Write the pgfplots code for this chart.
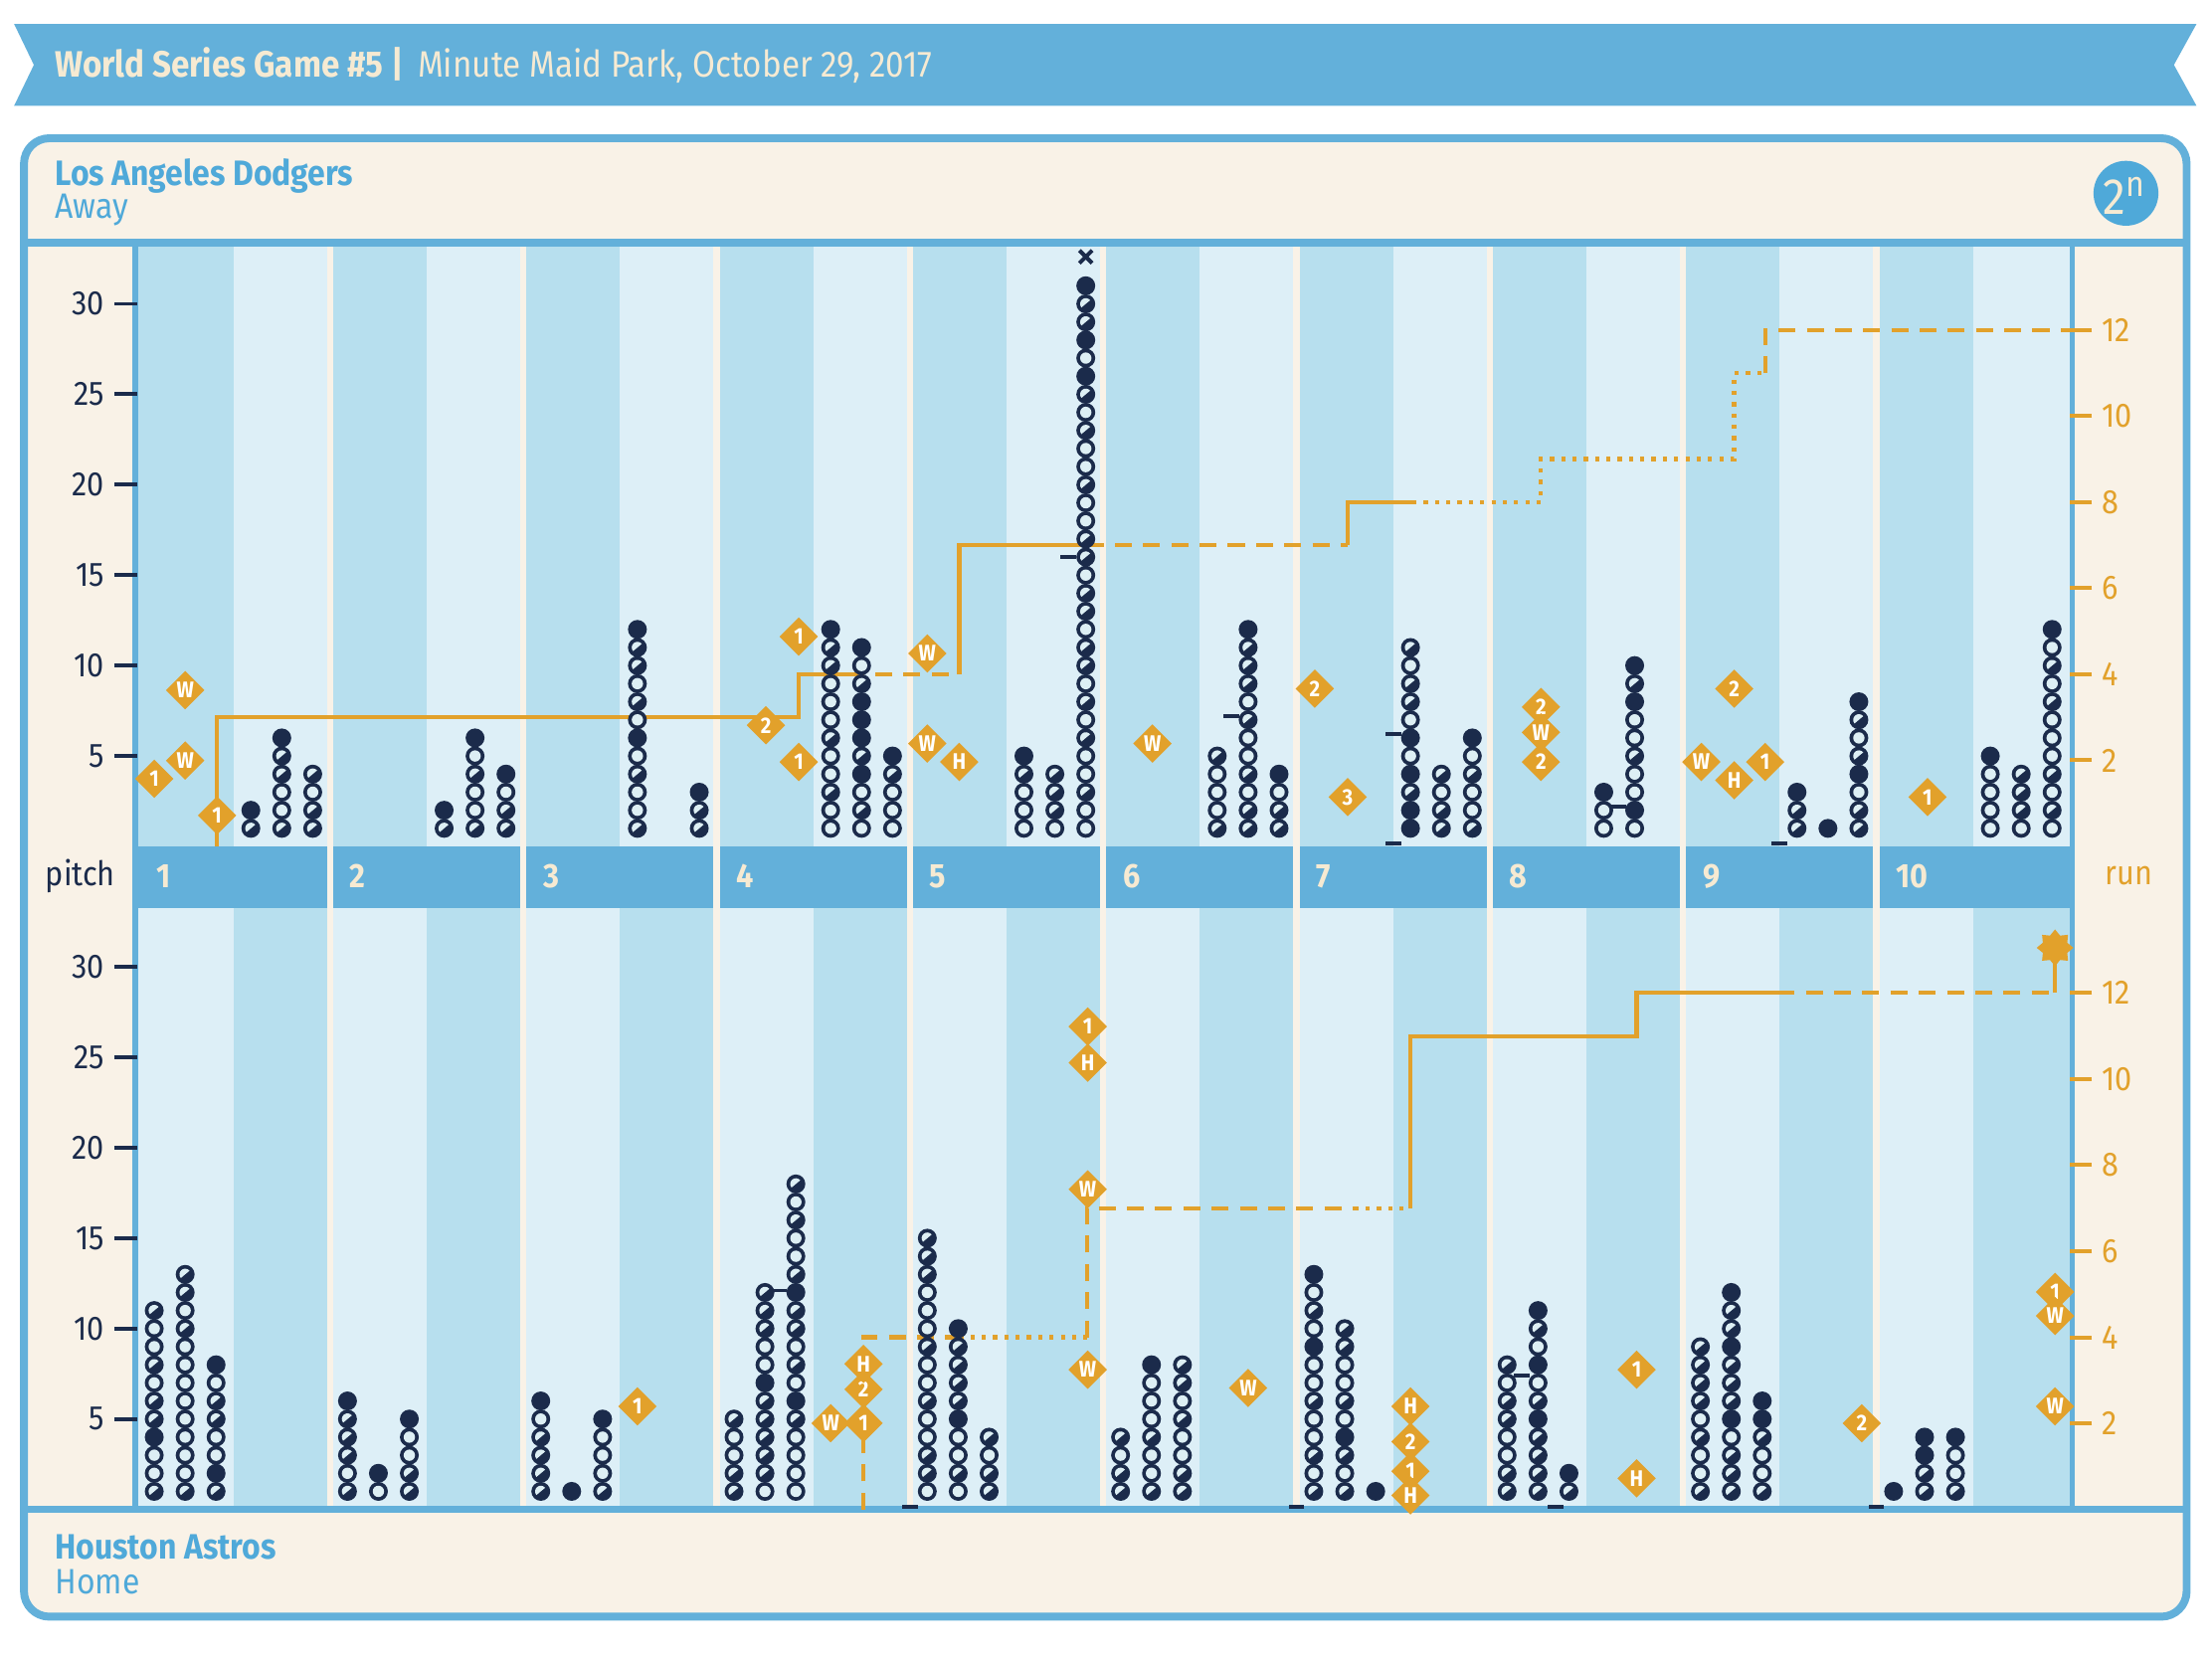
\documentclass[border=0pt]{standalone}
\usepackage{fontspec}
\setmainfont{Fira Sans}[FakeStretch=0.9]
\usepackage{pgfplots}
\pgfplotsset{compat=1.18}

\definecolor{navy}{HTML}{1B2B4B}
\definecolor{bandblue}{HTML}{63B0DA}
\definecolor{headblue}{HTML}{4FA9D9}
\definecolor{stripeD}{HTML}{B7DFEE}
\definecolor{stripeL}{HTML}{DDEFF7}
\definecolor{cream}{HTML}{F9F2E7}
\definecolor{orangec}{HTML}{E2A12B}
\definecolor{titlecream}{HTML}{F6EAD2}
\definecolor{dotlight}{HTML}{DDEFF4}

% pitch dots drawn only with fills, so their look does not depend on line width
\pgfdeclareplotmark{dotF}{%
  \pgfscope
  \pgfsetfillcolor{navy}%
  \pgfpathcircle{\pgfpointorigin}{\pgfplotmarksize}%
  \pgfusepathqfill
  \endpgfscope
}
\pgfdeclareplotmark{dotO}{%
  \pgfscope
  \pgfsetfillcolor{navy}%
  \pgfpathcircle{\pgfpointorigin}{\pgfplotmarksize}%
  \pgfusepathqfill
  \pgfsetfillcolor{dotlight}%
  \pgfpathcircle{\pgfpointorigin}{0.6\pgfplotmarksize}%
  \pgfusepathqfill
  \endpgfscope
}
\pgfdeclareplotmark{dotS}{%
  \pgfscope
  \pgfsetfillcolor{navy}%
  \pgfpathcircle{\pgfpointorigin}{\pgfplotmarksize}%
  \pgfusepathqfill
  \pgfsetfillcolor{dotlight}%
  \pgfpathmoveto{\pgfpointpolar{40}{0.6\pgfplotmarksize}}%
  \pgfpatharc{40}{220}{0.6\pgfplotmarksize}%
  \pgfpathclose
  \pgfusepathqfill
  \endpgfscope
}
\pgfdeclareplotmark{rhomb}{%
  \pgfpathmoveto{\pgfqpoint{0pt}{\pgfplotmarksize}}%
  \pgfpathlineto{\pgfqpoint{\pgfplotmarksize}{0pt}}%
  \pgfpathlineto{\pgfqpoint{0pt}{-\pgfplotmarksize}}%
  \pgfpathlineto{\pgfqpoint{-\pgfplotmarksize}{0pt}}%
  \pgfpathclose
  \pgfusepathqfill
}
\pgfdeclareplotmark{burst}{%
  \pgfpathmoveto{\pgfpointpolar{0}{\pgfplotmarksize}}%
  \pgfpathlineto{\pgfpointpolar{22.5}{0.72\pgfplotmarksize}}%
  \pgfpathlineto{\pgfpointpolar{45}{\pgfplotmarksize}}%
  \pgfpathlineto{\pgfpointpolar{67.5}{0.72\pgfplotmarksize}}%
  \pgfpathlineto{\pgfpointpolar{90}{\pgfplotmarksize}}%
  \pgfpathlineto{\pgfpointpolar{112.5}{0.72\pgfplotmarksize}}%
  \pgfpathlineto{\pgfpointpolar{135}{\pgfplotmarksize}}%
  \pgfpathlineto{\pgfpointpolar{157.5}{0.72\pgfplotmarksize}}%
  \pgfpathlineto{\pgfpointpolar{180}{\pgfplotmarksize}}%
  \pgfpathlineto{\pgfpointpolar{202.5}{0.72\pgfplotmarksize}}%
  \pgfpathlineto{\pgfpointpolar{225}{\pgfplotmarksize}}%
  \pgfpathlineto{\pgfpointpolar{247.5}{0.72\pgfplotmarksize}}%
  \pgfpathlineto{\pgfpointpolar{270}{\pgfplotmarksize}}%
  \pgfpathlineto{\pgfpointpolar{292.5}{0.72\pgfplotmarksize}}%
  \pgfpathlineto{\pgfpointpolar{315}{\pgfplotmarksize}}%
  \pgfpathlineto{\pgfpointpolar{337.5}{0.72\pgfplotmarksize}}%
  \pgfpathclose
  \pgfusepathqfill
}

\pgfplotsset{
  panel/.style={anchor=south west, scale only axis, width=685pt, height=212.5pt,
    xmin=0, xmax=20, xtick=\empty, axis line style={draw=none},
    tick align=outside, major tick length=8pt,
    /pgf/number format/assume math mode=true, clip=false,
    yticklabel style={font=\fontsize{12}{12}\selectfont}},
  pitchax/.style={panel, ymin=0, ymax=33.15, ytick={5,10,...,30},
    ytick pos=left, yticklabel pos=left,
    tick style={draw=navy, line width=1.4pt}, yticklabel style={text=navy}},
  runax/.style={panel, ymin=0, ymax=13.93, ytick={2,4,...,12},
    ytick pos=right, yticklabel pos=right,
    tick style={draw=orangec, line width=1.4pt}, yticklabel style={text=orangec}},
  dots/.style={scatter, only marks, scatter src=explicit symbolic, mark size=3.35pt,
    scatter/classes={
      f={mark=dotF, mark size=3.35pt},
      o={mark=dotO, mark size=3.35pt},
      s={mark=dotS, mark size=3.35pt}}},
  diam/.style={only marks, mark=rhomb, mark size=6.8pt, color=orangec,
    point meta=explicit symbolic, nodes near coords,
    nodes near coords style={anchor=center, inner sep=0pt, text=white,
      font=\fontsize{8}{8}\selectfont\bfseries}},
  rsolid/.style={orangec, line width=1.5pt, mark=none},
  rdash/.style={orangec, line width=1.5pt, dash pattern=on 6pt off 4pt, mark=none},
  rdot/.style={orangec, line width=1.5pt, dash pattern=on 1.5pt off 2.5pt, mark=none},
  smalldash/.style={only marks, mark=-, mark size=2.8pt, navy, line width=1.3pt},
}

\begin{document}
\begin{tikzpicture}
\begin{scope}[x=0.5pt,y=-0.5pt]
  \fill[white] (0,0) rectangle (1568,1176);
  % banner
  \fill[bandblue] (10,17) -- (1557,17) -- (1541,46) -- (1557,75) -- (10,75) -- (24,46) -- cycle;
  \node[anchor=west, text=titlecream, font=\fontsize{13}{14}\selectfont] at (32,46)
    {\textbf{World Series Game \#5 |}\hspace{5pt}Minute Maid Park, October 29, 2017};
  % panel
  \draw[line width=2.8pt, bandblue, fill=cream, rounded corners=9pt] (17,98) rectangle (1550,1146);
  % stripes
  \foreach \i in {0,...,9}{
    \pgfmathsetmacro\xa{97+137*\i}
    \pgfmathsetmacro\xb{97+137*\i+68.5}
    \pgfmathsetmacro\xc{97+137*\i+137}
    \fill[stripeD] (\xa,174) rectangle (\xb,600);
    \fill[stripeL] (\xb,174) rectangle (\xc,600);
    \fill[stripeL] (\xa,644) rectangle (\xb,1070);
    \fill[stripeD] (\xb,644) rectangle (\xc,1070);
  }
  \fill[bandblue] (97,600) rectangle (1467,644);
  \foreach \i in {1,...,9}{
    \draw[cream, line width=2.3pt] ({97+137*\i},174) -- ({97+137*\i},1070);
  }
  \foreach \i in {1,...,10}{
    \node[anchor=west, text=titlecream, font=\fontsize{12}{12}\selectfont\bfseries]
      at ({97+137*(\i-1)+7},621) {\i};
  }
  % borders
  \draw[bandblue, line width=2pt] (96,172) -- (96,1070);
  \draw[bandblue, line width=2pt] (1469,172) -- (1469,1070);
  \draw[bandblue, line width=2.6pt] (17,172) -- (1550,172);
  \draw[bandblue, line width=2.6pt] (17,1070) -- (1550,1070);
  % texts
  \node[anchor=west, text=headblue, font=\fontsize{12.5}{13}\selectfont\bfseries] at (32,125) {Los Angeles Dodgers};
  \node[anchor=west, text=headblue, font=\fontsize{12.5}{13}\selectfont] at (32,149) {Away};
  \node[anchor=west, text=headblue, font=\fontsize{12.5}{13}\selectfont\bfseries] at (32,1097) {Houston Astros};
  \node[anchor=west, text=headblue, font=\fontsize{12.5}{13}\selectfont] at (32,1121) {Home};
  \node[text=navy, font=\fontsize{12}{12}\selectfont] at (57,621) {pitch};
  \node[text=orangec, font=\fontsize{12}{12}\selectfont] at (1509,621) {run};
  \fill[headblue] (1507,137) circle[radius=11.5pt];
  \node[text=titlecream, font=\fontsize{18}{18}\selectfont] at (1506,139) {2\textsuperscript{n}};
\end{scope}

% ================= TOP PANEL (Los Angeles Dodgers) =================
\begin{axis}[runax, at={(48.5pt,-300pt)}]
  \addplot[rsolid] coordinates {(0.83,0)(0.83,3)(6.85,3)(6.85,4)(7.35,4)};
  \addplot[rdash] coordinates {(7.35,4)(8.51,4)};
  \addplot[rsolid] coordinates {(8.51,4)(8.51,7)(9.83,7)};
  \addplot[rdash] coordinates {(9.83,7)(12.53,7)};
  \addplot[rsolid] coordinates {(12.53,7)(12.53,8)(13.2,8)};
  \addplot[rdot] coordinates {(13.2,8)(14.53,8)(14.53,9)(16.53,9)(16.53,11)(16.85,11)};
  \addplot[rdash] coordinates {(16.85,11)(16.85,12)(20,12)};
\end{axis}

\begin{axis}[pitchax, at={(48.5pt,-300pt)}]
  \addplot[dots] coordinates {
    (1.18,1)[s] (1.18,2)[f]
    (1.5,1)[s] (1.5,2)[o] (1.5,3)[o] (1.5,4)[s] (1.5,5)[s] (1.5,6)[f]
    (1.82,1)[s] (1.82,2)[s] (1.82,3)[o] (1.82,4)[s]
    (3.18,1)[s] (3.18,2)[f]
    (3.5,1)[s] (3.5,2)[o] (3.5,3)[o] (3.5,4)[s] (3.5,5)[o] (3.5,6)[f]
    (3.82,1)[s] (3.82,2)[s] (3.82,3)[o] (3.82,4)[f]
    (5.18,1)[s] (5.18,2)[o] (5.18,3)[o] (5.18,4)[s] (5.18,5)[o] (5.18,6)[f] (5.18,7)[o] (5.18,8)[s] (5.18,9)[o] (5.18,10)[s] (5.18,11)[s] (5.18,12)[f]
    (5.82,1)[s] (5.82,2)[s] (5.82,3)[f]
    (7.18,1)[o] (7.18,2)[o] (7.18,3)[s] (7.18,4)[o] (7.18,5)[o] (7.18,6)[s] (7.18,7)[o] (7.18,8)[o] (7.18,9)[o] (7.18,10)[s] (7.18,11)[s] (7.18,12)[f]
    (7.5,1)[o] (7.5,2)[s] (7.5,3)[o] (7.5,4)[f] (7.5,5)[s] (7.5,6)[f] (7.5,7)[f] (7.5,8)[f] (7.5,9)[s] (7.5,10)[o] (7.5,11)[f]
    (7.82,1)[o] (7.82,2)[o] (7.82,3)[o] (7.82,4)[s] (7.82,5)[f]
    (9.18,1)[o] (9.18,2)[o] (9.18,3)[o] (9.18,4)[s] (9.18,5)[f]
    (9.5,1)[o] (9.5,2)[s] (9.5,3)[s] (9.5,4)[s]
    (9.82,1)[o] (9.82,2)[o] (9.82,3)[s] (9.82,4)[o] (9.82,5)[o] (9.82,6)[s] (9.82,7)[o] (9.82,8)[s] (9.82,9)[o] (9.82,10)[s]
    (9.82,11)[s] (9.82,12)[o] (9.82,13)[s] (9.82,14)[s] (9.82,15)[o] (9.82,16)[s] (9.82,17)[s] (9.82,18)[o] (9.82,19)[o] (9.82,20)[s]
    (9.82,21)[o] (9.82,22)[o] (9.82,23)[s] (9.82,24)[o] (9.82,25)[s] (9.82,26)[f] (9.82,27)[o] (9.82,28)[f] (9.82,29)[s] (9.82,30)[s] (9.82,31)[f]
    (11.18,1)[s] (11.18,2)[o] (11.18,3)[o] (11.18,4)[o] (11.18,5)[s]
    (11.5,1)[s] (11.5,2)[s] (11.5,3)[o] (11.5,4)[s] (11.5,5)[o] (11.5,6)[o] (11.5,7)[s] (11.5,8)[o] (11.5,9)[s] (11.5,10)[s] (11.5,11)[s] (11.5,12)[f]
    (11.82,1)[s] (11.82,2)[s] (11.82,3)[o] (11.82,4)[f]
    (13.18,1)[f] (13.18,2)[f] (13.18,3)[s] (13.18,4)[f] (13.18,5)[o] (13.18,6)[f] (13.18,7)[o] (13.18,8)[s] (13.18,9)[s] (13.18,10)[o] (13.18,11)[s]
    (13.5,1)[s] (13.5,2)[s] (13.5,3)[o] (13.5,4)[s]
    (13.82,1)[s] (13.82,2)[o] (13.82,3)[o] (13.82,4)[s] (13.82,5)[o] (13.82,6)[f]
    (15.18,1)[o] (15.18,2)[o] (15.18,3)[f]
    (15.5,1)[o] (15.5,2)[f] (15.5,3)[o] (15.5,4)[o] (15.5,5)[s] (15.5,6)[o] (15.5,7)[o] (15.5,8)[f] (15.5,9)[s] (15.5,10)[f]
    (17.18,1)[s] (17.18,2)[s] (17.18,3)[f]
    (17.5,1)[f]
    (17.82,1)[s] (17.82,2)[s] (17.82,3)[o] (17.82,4)[f] (17.82,5)[s] (17.82,6)[o] (17.82,7)[s] (17.82,8)[f]
    (19.18,1)[o] (19.18,2)[o] (19.18,3)[o] (19.18,4)[o] (19.18,5)[f]
    (19.5,1)[o] (19.5,2)[s] (19.5,3)[s] (19.5,4)[s]
    (19.82,1)[o] (19.82,2)[s] (19.82,3)[o] (19.82,4)[s] (19.82,5)[o] (19.82,6)[o] (19.82,7)[o] (19.82,8)[s] (19.82,9)[o] (19.82,10)[s] (19.82,11)[o] (19.82,12)[f]
  };
  \addplot[smalldash] coordinates {(9.64,16) (11.33,7.2) (13.0,6.2) (13.0,0.15) (15.33,2.2) (17.0,0.15)};
  \addplot[only marks, mark=x, mark size=3.2pt, navy, line width=1.4pt] coordinates {(9.82,32.6)};
  \addplot[diam] coordinates {
    (0.18,3.74)[1] (0.5,8.64)[W] (0.5,4.75)[W] (0.83,1.71)[1]
    (6.51,6.70)[2] (6.85,11.6)[1] (6.85,4.67)[1]
    (8.18,10.67)[W] (8.18,5.69)[W] (8.51,4.67)[H]
    (10.51,5.69)[W]
    (12.19,8.72)[2] (12.53,2.73)[3]
    (14.53,7.71)[2] (14.53,6.31)[W] (14.53,4.67)[2]
    (16.19,4.67)[W] (16.53,3.66)[H] (16.85,4.67)[1] (16.53,8.72)[2]
    (18.53,2.73)[1]
  };
\end{axis}

% ================= BOTTOM PANEL (Houston Astros) =================
\begin{axis}[runax, at={(48.5pt,-535pt)}]
  \addplot[rdash] coordinates {(7.52,0)(7.52,4)(8.51,4)};
  \addplot[rdot] coordinates {(8.51,4)(9.83,4)};
  \addplot[rdash] coordinates {(9.83,4)(9.83,7)(12.6,7)};
  \addplot[rdot] coordinates {(12.6,7)(13.18,7)};
  \addplot[rsolid] coordinates {(13.18,7)(13.18,11)(15.52,11)(15.52,12)(16.98,12)};
  \addplot[rdash] coordinates {(16.98,12)(19.85,12)};
  \addplot[rsolid] coordinates {(19.85,12)(19.85,13)};
  \addplot[only marks, mark=burst, mark size=6.5pt, orangec] coordinates {(19.85,13.05)};
\end{axis}

\begin{axis}[pitchax, at={(48.5pt,-535pt)}]
  \addplot[dots] coordinates {
    (0.18,1)[s] (0.18,2)[o] (0.18,3)[o] (0.18,4)[f] (0.18,5)[s] (0.18,6)[s] (0.18,7)[o] (0.18,8)[s] (0.18,9)[o] (0.18,10)[o] (0.18,11)[s]
    (0.5,1)[s] (0.5,2)[o] (0.5,3)[o] (0.5,4)[o] (0.5,5)[o] (0.5,6)[o] (0.5,7)[o] (0.5,8)[o] (0.5,9)[o] (0.5,10)[s] (0.5,11)[o] (0.5,12)[s] (0.5,13)[s]
    (0.82,1)[s] (0.82,2)[f] (0.82,3)[o] (0.82,4)[o] (0.82,5)[s] (0.82,6)[s] (0.82,7)[o] (0.82,8)[f]
    (2.18,1)[s] (2.18,2)[o] (2.18,3)[s] (2.18,4)[s] (2.18,5)[s] (2.18,6)[f]
    (2.5,1)[o] (2.5,2)[f]
    (2.82,1)[s] (2.82,2)[s] (2.82,3)[o] (2.82,4)[o] (2.82,5)[f]
    (4.18,1)[s] (4.18,2)[s] (4.18,3)[s] (4.18,4)[s] (4.18,5)[o] (4.18,6)[f]
    (4.5,1)[f]
    (4.82,1)[s] (4.82,2)[o] (4.82,3)[o] (4.82,4)[o] (4.82,5)[f]
    (6.18,1)[s] (6.18,2)[s] (6.18,3)[o] (6.18,4)[o] (6.18,5)[s]
    (6.5,1)[o] (6.5,2)[s] (6.5,3)[s] (6.5,4)[s] (6.5,5)[s] (6.5,6)[s] (6.5,7)[f] (6.5,8)[o] (6.5,9)[o] (6.5,10)[s] (6.5,11)[s] (6.5,12)[s]
    (6.82,1)[o] (6.82,2)[o] (6.82,3)[o] (6.82,4)[o] (6.82,5)[s] (6.82,6)[f] (6.82,7)[o] (6.82,8)[s] (6.82,9)[o] (6.82,10)[s] (6.82,11)[s] (6.82,12)[f] (6.82,13)[s] (6.82,14)[o] (6.82,15)[o] (6.82,16)[s] (6.82,17)[o] (6.82,18)[s]
    (8.18,1)[o] (8.18,2)[s] (8.18,3)[s] (8.18,4)[o] (8.18,5)[o] (8.18,6)[s] (8.18,7)[o] (8.18,8)[o] (8.18,9)[s] (8.18,10)[o] (8.18,11)[o] (8.18,12)[o] (8.18,13)[s] (8.18,14)[s] (8.18,15)[s]
    (8.5,1)[o] (8.5,2)[s] (8.5,3)[o] (8.5,4)[o] (8.5,5)[f] (8.5,6)[s] (8.5,7)[s] (8.5,8)[s] (8.5,9)[s] (8.5,10)[f]
    (8.82,1)[s] (8.82,2)[s] (8.82,3)[o] (8.82,4)[s]
    (10.18,1)[s] (10.18,2)[s] (10.18,3)[o] (10.18,4)[s]
    (10.5,1)[s] (10.5,2)[o] (10.5,3)[o] (10.5,4)[s] (10.5,5)[o] (10.5,6)[o] (10.5,7)[o] (10.5,8)[f]
    (10.82,1)[s] (10.82,2)[s] (10.82,3)[o] (10.82,4)[o] (10.82,5)[s] (10.82,6)[o] (10.82,7)[s] (10.82,8)[s]
    (12.18,1)[s] (12.18,2)[o] (12.18,3)[s] (12.18,4)[o] (12.18,5)[o] (12.18,6)[s] (12.18,7)[o] (12.18,8)[o] (12.18,9)[f] (12.18,10)[o] (12.18,11)[s] (12.18,12)[o] (12.18,13)[f]
    (12.5,1)[s] (12.5,2)[o] (12.5,3)[s] (12.5,4)[f] (12.5,5)[o] (12.5,6)[s] (12.5,7)[o] (12.5,8)[o] (12.5,9)[s] (12.5,10)[s]
    (12.82,1)[f]
    (14.18,1)[s] (14.18,2)[s] (14.18,3)[o] (14.18,4)[o] (14.18,5)[s] (14.18,6)[s] (14.18,7)[o] (14.18,8)[s]
    (14.5,1)[s] (14.5,2)[s] (14.5,3)[s] (14.5,4)[s] (14.5,5)[f] (14.5,6)[s] (14.5,7)[o] (14.5,8)[f] (14.5,9)[o] (14.5,10)[s] (14.5,11)[f]
    (14.82,1)[s] (14.82,2)[f]
    (16.18,1)[s] (16.18,2)[o] (16.18,3)[o] (16.18,4)[s] (16.18,5)[o] (16.18,6)[s] (16.18,7)[s] (16.18,8)[s] (16.18,9)[s]
    (16.5,1)[s] (16.5,2)[s] (16.5,3)[s] (16.5,4)[o] (16.5,5)[f] (16.5,6)[s] (16.5,7)[s] (16.5,8)[s] (16.5,9)[f] (16.5,10)[s] (16.5,11)[s] (16.5,12)[f]
    (16.82,1)[s] (16.82,2)[o] (16.82,3)[o] (16.82,4)[s] (16.82,5)[f] (16.82,6)[f]
    (18.18,1)[f]
    (18.5,1)[s] (18.5,2)[s] (18.5,3)[f] (18.5,4)[f]
    (18.82,1)[s] (18.82,2)[o] (18.82,3)[o] (18.82,4)[f]
  };
  \addplot[smalldash] coordinates {(6.64,12.1) (8.0,0.15) (12.0,0.15) (14.33,7.4) (14.68,0.15) (18.0,0.15)};
  \addplot[diam] coordinates {
    (5.18,5.70)[1]
    (7.18,4.77)[W] (7.52,4.77)[1] (7.52,6.64)[2] (7.52,8.05)[H]
    (9.84,26.7)[1] (9.84,24.7)[H] (9.84,17.7)[W] (9.84,7.73)[W]
    (11.5,6.72)[W]
    (13.18,5.70)[H] (13.18,3.75)[2] (13.18,2.11)[1] (13.18,0.78)[H]
    (15.52,7.73)[1] (15.52,1.72)[H]
    (17.85,4.77)[2]
    (19.85,12.03)[1] (19.85,10.70)[W] (19.85,5.70)[W]
  };
\end{axis}
\end{tikzpicture}
\end{document}
